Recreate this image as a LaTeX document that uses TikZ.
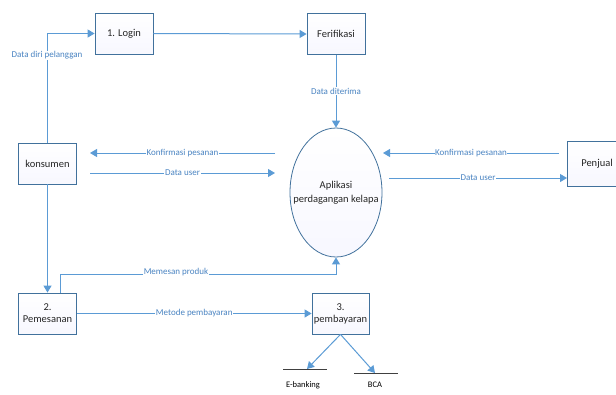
\documentclass[tikz,border=0pt]{standalone}
\usepackage{fontspec}
\setmainfont{Carlito}
\usetikzlibrary{arrows.meta,shapes.geometric}
\definecolor{flowc}{HTML}{5B9BD5}
\definecolor{boxc}{HTML}{41719C}
\definecolor{labc}{HTML}{4A84C2}
\tikzset{
  procbox/.style={draw=boxc, line width=0.8pt, top color=white, bottom color=black!8!blue!3!white,
    minimum width=58pt, minimum height=41pt, inner sep=1pt, align=center,
    font=\fontsize{10.5}{12}\selectfont, text=black!85},
  flow/.style={draw=flowc, line width=1pt, -{Triangle[length=7pt,width=8pt]}},
  lab/.style={fill=white, inner sep=0.6pt, text=labc, font=\fontsize{9}{10}\selectfont},
  storeline/.style={draw=black!75, line width=0.9pt},
  storetext/.style={font=\fontsize{8.5}{10}\selectfont, text=black}
}
\begin{document}
\begin{tikzpicture}[x=1pt,y=-1pt]
\useasboundingbox (0,0) rectangle (616,394);
% nodes
\node[procbox] (login) at (124,33.5) {1. Login};
\node[procbox] (ferif) at (336,34) {Ferifikasi};
\node[procbox] (kons) at (47.5,163.5) {konsumen};
\node[procbox] (pemes) at (47.5,313.5) {2.\\Pemesanan};
\node[procbox, minimum width=57pt] (pemba) at (340.5,313.5) {3.\\pembayaran};
\node[procbox, minimum width=60pt, minimum height=45pt] (penjual) at (597,163.5) {Penjual};
\node[draw=boxc, line width=0.8pt, ellipse, minimum width=92pt, minimum height=129pt,
  inner sep=0pt, top color=white, bottom color=black!6!blue!3!white] (app) at (336,192.5) {};
\node[align=center, inner sep=0pt, font=\fontsize{10.5}{14}\selectfont, text=black!85] (appt) at (336,193) {Aplikasi\\perdagangan kelapa};
% coordinates
\coordinate (kfa) at (275,153);
\coordinate (kfb) at (90,153);
\coordinate (dua) at (90,173);
\coordinate (dub) at (275,173);
\coordinate (pka) at (559,153);
\coordinate (pkb) at (383,153);
\coordinate (pda) at (389,178);
\coordinate (pdb) at (567,178);
\coordinate (mp) at (60,274);
\coordinate (eb) at (307,369);
\coordinate (bca) at (375,373);
% connectors
\draw[flow] (kons.north) |- (login.west);
\node[lab] at (47,55) {Data diri pelanggan};
\draw[flow] (login.east) -- (ferif.west);
\draw[flow] (ferif.south) -- (app.north) node[lab, pos=0.5] {Data diterima};
\draw[flow] (kfa) -- (kfb) node[lab, pos=0.5] {Konfirmasi pesanan};
\draw[flow] (dua) -- (dub) node[lab, pos=0.5] {Data user};
\draw[flow] (pka) -- (pkb) node[lab, pos=0.5] {Konfirmasi pesanan};
\draw[flow] (pda) -- (pdb) node[lab, pos=0.5] {Data user};
\draw[flow] (kons.south) -- (pemes.north);
\draw[flow] ([xshift=12.5pt]pemes.north) -- (mp) -| (app.south);
\node[lab] at (176,272) {Memesan produk};
\draw[flow] (pemes.east) -- (pemba.west) node[lab, pos=0.5] {Metode pembayaran};
\draw[flow] (pemba.south) -- (eb);
\draw[flow] (pemba.south) -- (bca);
% data stores
\draw[storeline] (283,369) -- (327,369);
\draw[storeline] (354,373) -- (398,373);
\node[storetext] (ebt) at (303,385) {E-banking};
\node[storetext] (bcat) at (375,385) {BCA};
\end{tikzpicture}
\end{document}
